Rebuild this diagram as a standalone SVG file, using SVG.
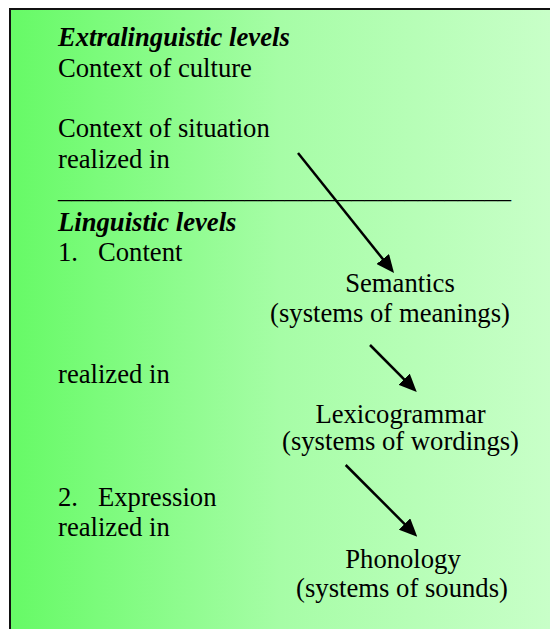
<svg xmlns="http://www.w3.org/2000/svg" width="550" height="629" viewBox="0 0 550 629">
<defs>
<linearGradient id="bg" x1="10" y1="0" x2="550" y2="0" gradientUnits="userSpaceOnUse">
<stop offset="0" stop-color="#66fa66"/>
<stop offset="0.5" stop-color="#a6fda6"/>
<stop offset="1" stop-color="#c8ffc8"/>
</linearGradient>
<marker id="ah" markerUnits="userSpaceOnUse" markerWidth="18" markerHeight="16" refX="9" refY="8" orient="auto" viewBox="0 0 18 16">
<path d="M0,0 L18,8 L0,16 z" fill="#000"/>
</marker>
<style>
text{font-family:"Times New Roman","Liberation Serif",Tinos,"Nimbus Roman","Nimbus Roman No9 L",FreeSerif,"Noto Serif","DejaVu Serif",Times,serif;font-size:26.67px;fill:#000}
.h{font-weight:bold;font-style:italic}
.c{text-anchor:middle}
.a{stroke:#000;stroke-width:2.5;fill:none;marker-end:url(#ah)}
</style>
</defs>
<rect x="10" y="9" width="560" height="640" fill="url(#bg)" stroke="#111" stroke-width="2"/>
<g id="extralinguistic">
<text class="h" x="58" y="46">Extralinguistic levels</text>
<text x="58" y="77">Context of culture</text>
<text x="58" y="137">Context of situation</text>
<text x="58" y="168">realized in</text>
</g>
<g id="divider">
<text x="58" y="198">__________________________________</text>
</g>
<g id="linguistic">
<text class="h" x="58" y="231">Linguistic levels</text>
<text x="58" y="261">1.</text>
<text x="98" y="261">Content</text>
<text x="58" y="383">realized in</text>
<text x="58" y="506">2.</text>
<text x="98" y="506">Expression</text>
<text x="58" y="536">realized in</text>
</g>
<g id="semantics">
<text class="c" x="400" y="292">Semantics</text>
<text class="c" x="390" y="322">(systems of meanings)</text>
</g>
<g id="lexicogrammar">
<text class="c" x="400.5" y="423">Lexicogrammar</text>
<text class="c" x="400.5" y="450">(systems of wordings)</text>
</g>
<g id="phonology">
<text class="c" x="403" y="568">Phonology</text>
<text class="c" x="402" y="597">(systems of sounds)</text>
</g>
<g id="connectors">
<line class="a" x1="298" y1="153" x2="388.4" y2="266"/>
<line class="a" x1="370" y1="345" x2="410.4" y2="385.6"/>
<line class="a" x1="345.7" y1="465" x2="410.9" y2="530.3"/>
</g>
</svg>
